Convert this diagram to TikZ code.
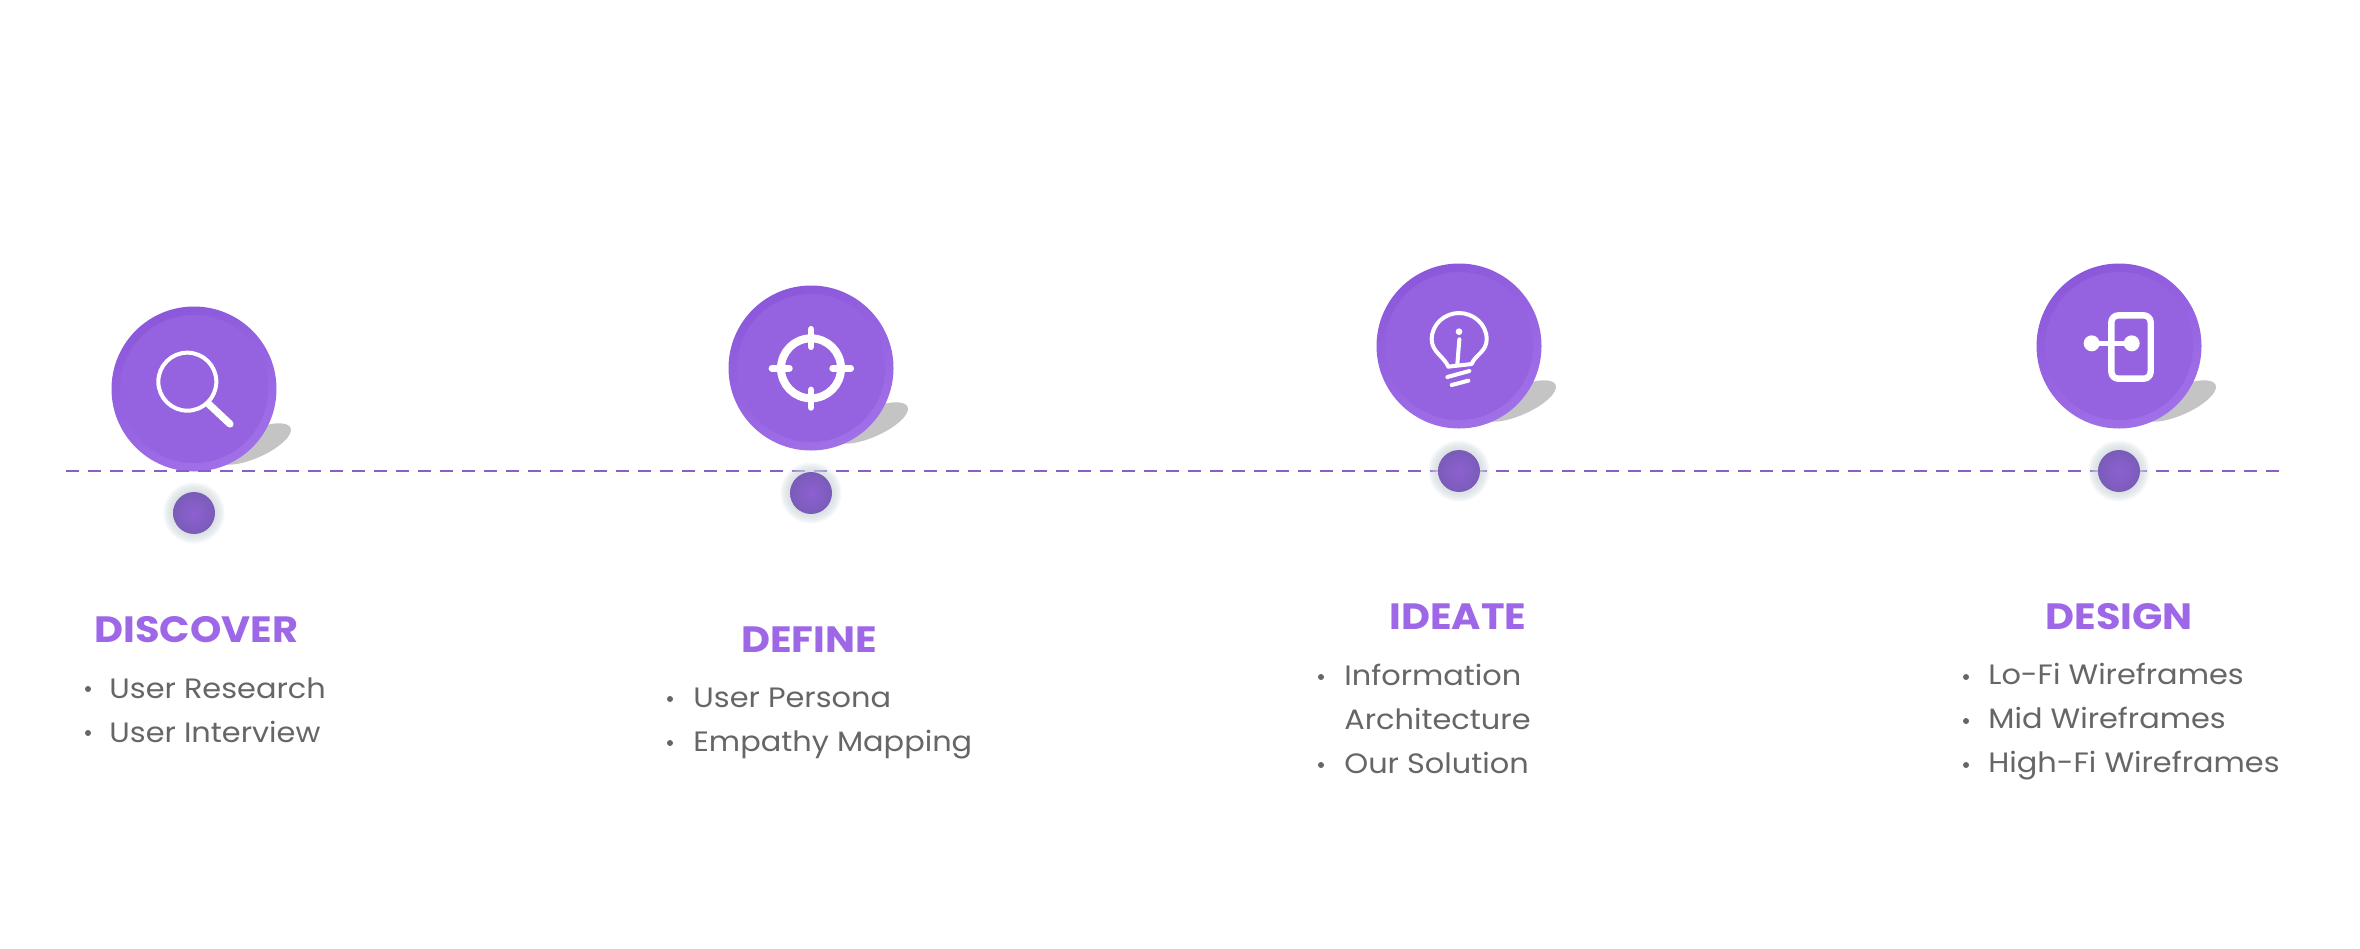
\documentclass[tikz,border=0pt]{standalone}
\usepackage{fontspec}
\setmainfont{Poppins}
\newfontfamily\itemface[FakeStretch=1.085]{Poppins}
\newfontfamily\headface[FakeStretch=1.09]{Poppins}
\usetikzlibrary{calc}
\definecolor{rimdark}{HTML}{8C58DB}
\definecolor{rimlight}{HTML}{A070E8}
\definecolor{discfill}{HTML}{9663E0}
\definecolor{shadowgray}{HTML}{C4C4C4}
\definecolor{linepurple}{HTML}{8660C4}
\definecolor{dotedge}{HTML}{7A5CB8}
\definecolor{dotcore}{HTML}{8E60D2}
\definecolor{halo}{HTML}{CFD9DC}
\definecolor{headpurple}{HTML}{9D67E8}
\definecolor{bodygray}{HTML}{666666}
\tikzset{
  x=0.5pt,y=-0.5pt,
  rimdisc/.style={circle,inner sep=0pt,minimum size=82.5pt,top color=rimdark,bottom color=rimlight,shading angle=25},
  innerdisc/.style={circle,inner sep=0pt,minimum size=74pt,fill=discfill},
  shadowblob/.style={fill=shadowgray},
  timeline/.style={draw=linepurple,line width=1.35pt,dash pattern=on 6.5pt off 4.5pt},
  dotnode/.style={circle,inner sep=0pt,minimum size=21pt,shade,inner color=dotcore,outer color=dotedge},
  halonode/.style={circle,inner sep=0pt,fill=halo,fill opacity=.17},
  heading/.style={anchor=base west,inner sep=0pt,text=headpurple,font=\headface\fontsize{18.3}{18}\selectfont\bfseries},
  item/.style={anchor=base west,inner sep=0pt,text=bodygray,font=\itemface\fontsize{14}{14}\selectfont},
  bulletdot/.style={circle,inner sep=0pt,minimum size=3pt,fill=bodygray},
  icon/.style={draw=white,line cap=round,line join=round},
}
\newcommand{\stepdisc}[3]{%
  \fill[shadowblob,rotate around={24:(#2+60,#3+55)}] (#2+60,#3+55) ellipse [x radius=40,y radius=14];
  \node[rimdisc] (disc#1) at (#2,#3) {};
  \node[innerdisc] (inner#1) at (disc#1.center) {};
}
\newcommand{\stepdot}[3]{%
  \foreach \s [count=\k] in {61,58,55,52,49,46}{\node[halonode,minimum size=0.5*\s pt] (halo#1\k) at (#2,#3) {};}
  \node[dotnode] (dot#1) at (#2,#3) {};
}
\begin{document}
\begin{tikzpicture}
\useasboundingbox (0,0) rectangle (2360,948);
\fill[white] (0,0) rectangle (2360,948);
\coordinate (lineL) at (66,471);
\coordinate (lineR) at (2282,471);
\stepdisc{a}{194}{389}
\stepdisc{b}{811}{368}
\stepdisc{c}{1459}{346}
\stepdisc{d}{2119}{346}
\draw[timeline] (lineL) -- (lineR);
\stepdot{a}{194}{513}
\stepdot{b}{811}{493}
\stepdot{c}{1459}{471}
\stepdot{d}{2119}{471}
% search icon
\begin{scope}[shift={(60,280)},x=0.16667pt,y=-0.16667pt]
  \draw[icon,line width=2pt] (382,305) circle [radius=87];
  \draw[icon,line width=3.6pt] (446,372) -- (510,432);
\end{scope}
% target icon
\begin{scope}[shift={(680,300)},x=0.16667pt,y=-0.16667pt]
  \draw[icon,line width=4pt] (393,205) circle [radius=90];
  \draw[icon,line width=3.4pt] (393,88) -- (393,140) (393,270) -- (393,322) (276,205) -- (328,205) (458,205) -- (512,205);
\end{scope}
% bulb icon
\begin{scope}[shift={(1340,250)},x=0.16667pt,y=-0.16667pt]
  \draw[icon,line width=2pt] (325,350) .. controls (312,320) and (275,305) .. (275,268) .. controls (275,222) and (315,189) .. (357,189) .. controls (400,189) and (440,222) .. (440,268) .. controls (440,305) and (405,315) .. (395,342) -- (325,350);
  \draw[icon,line width=2pt] (358,268) -- (352,342);
  \fill[white] (357,245) circle [radius=10];
  \draw[icon,line width=2pt] (322,381) -- (388,363) (335,405) -- (385,392);
\end{scope}
% door icon
\begin{scope}[shift={(2000,250)},x=0.16667pt,y=-0.16667pt]
  \draw[icon,line width=3.2pt,rounded corners=3.5pt] (334,196) rectangle (452,386);
  \draw[icon,line width=2.4pt] (275,280) -- (395,280);
  \fill[white] (275,280) circle [radius=24] (395,280) circle [radius=24];
\end{scope}
% texts
\node[heading] (ha) at (94,642) {DISCOVER};
\node[item] (a1) at (109,698) {User Research};
\node[item] (a2) at (109,742) {User Interview};
\node[bulletdot] (ba1) at (88,689) {};
\node[bulletdot] (ba2) at (88,733) {};
\node[heading] (hb) at (741,652) {DEFINE};
\node[item] (b1) at (693,707) {User Persona};
\node[item] (b2) at (693,751) {Empathy Mapping};
\node[bulletdot] (bb1) at (670,699) {};
\node[bulletdot] (bb2) at (670,743) {};
\node[heading] (hc) at (1389,629) {IDEATE};
\node[item] (c1) at (1344,685) {Information};
\node[item] (c2) at (1344,729) {Architecture};
\node[item] (c3) at (1344,773) {Our Solution};
\node[bulletdot] (bc1) at (1321,677) {};
\node[bulletdot] (bc3) at (1321,765) {};
\node[heading] (hd) at (2045,629) {DESIGN};
\node[item] (d1) at (1988,684) {Lo-Fi Wireframes};
\node[item] (d2) at (1988,728) {Mid Wireframes};
\node[item] (d3) at (1988,772) {High-Fi Wireframes};
\node[bulletdot] (bd1) at (1966,677) {};
\node[bulletdot] (bd2) at (1966,721) {};
\node[bulletdot] (bd3) at (1966,765) {};
\end{tikzpicture}
\end{document}
